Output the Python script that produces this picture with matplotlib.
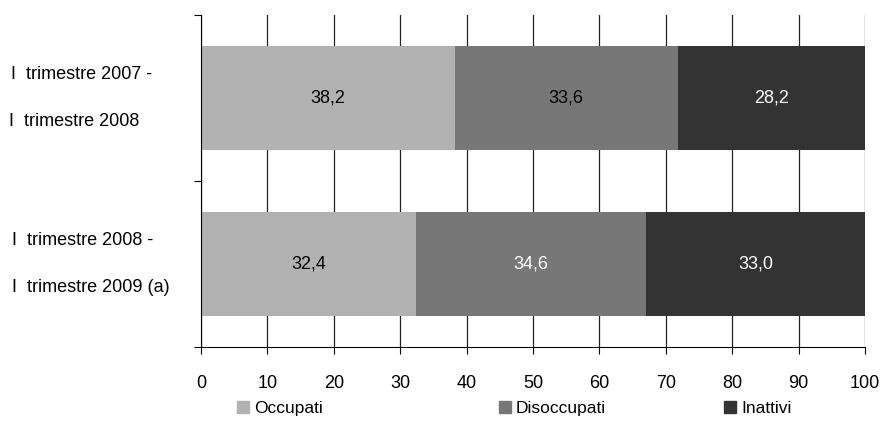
import matplotlib.pyplot as plt
import matplotlib.patches as mpatches
import numpy as np

plt.rcParams['font.family'] = ['Liberation Sans', 'DejaVu Sans']

periods = [['I  trimestre 2007 -', 'I  trimestre 2008'],
           ['I  trimestre 2008 -', 'I  trimestre 2009 (a)']]
series = ['Occupati', 'Disoccupati', 'Inattivi']
occupati = [38.2, 32.4]
disoccupati = [33.6, 34.6]
inattivi = [28.2, 33.0]
colors = ['#b2b2b2', '#777777', '#333333']

fig = plt.figure(figsize=(8.81, 4.29), dpi=100)
ax = fig.add_axes([0.2282, 0.1911, 0.7536, 0.7739])

y = np.arange(len(periods))
left = np.zeros(len(periods))
values = [occupati, disoccupati, inattivi]
for i, vals in enumerate(values):
    ax.barh(y, vals, left=left, height=0.63, color=colors[i], zorder=2, label=series[i])
    for j, v in enumerate(vals):
        txt = ('%.1f' % v).replace('.', ',')
        # dark segments get white text
        tc = 'white' if (colors[i] == '#333333' or (colors[i] == '#777777' and v > 34)) else 'black'
        ax.text(left[j] + v / 2, y[j], txt, ha='center', va='center', fontsize=13, color=tc, zorder=3)
    left += np.array(vals)

ax.set_xlim(0, 100)
ax.set_ylim(1.5, -0.5)
ax.set_xticks(np.arange(0, 101, 10))
ax.set_yticks([-0.5, 0.5, 1.5])
ax.set_yticklabels([])
ax.tick_params(axis='x', direction='out', length=5, pad=15, labelsize=13)
ax.tick_params(axis='y', direction='out', length=5)
ax.grid(axis='x', color='#222222', linewidth=0.9, zorder=0)
ax.set_axisbelow(True)
for s in ['top', 'right']:
    ax.spines[s].set_visible(False)

# label x offsets (axes fraction), second row slightly indented as in the source
label_x = [[-0.286, -0.289], [-0.284, -0.285]]
for j, lines in enumerate(periods):
    ax.text(label_x[j][0], y[j] - 0.14, lines[0], transform=ax.get_yaxis_transform(), ha='left', va='center', fontsize=13)
    ax.text(label_x[j][1], y[j] + 0.14, lines[1], transform=ax.get_yaxis_transform(), ha='left', va='center', fontsize=13)

legend_x = [0.269, 0.566, 0.822]
for i in range(3):
    h = mpatches.Patch(color=colors[i])
    fig.legend([h], [series[i]], loc='center left', bbox_to_anchor=(legend_x[i], 0.048), frameon=False,
               handlelength=0.7, handleheight=0.7, handletextpad=0.3, fontsize=12.5, borderaxespad=0, borderpad=0)

fig.savefig('out.png', dpi=100)
